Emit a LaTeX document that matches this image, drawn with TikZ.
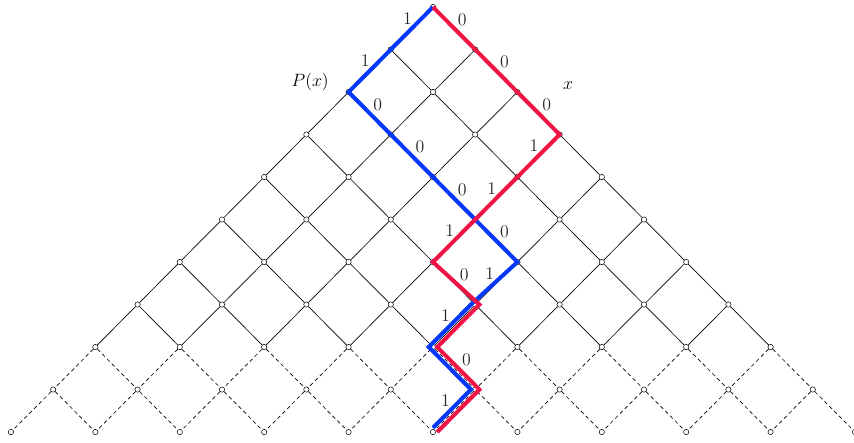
\documentclass[tikz,border=0pt]{standalone}
\usepackage{amsmath}
\usepackage{amssymb}
\usepackage{tikz}

\definecolor{pathred}{RGB}{240,20,70}
\definecolor{pathblue}{RGB}{5,55,250}

\begin{document}
\begin{tikzpicture}[x=1cm, y=1.007cm,
    vtx/.style={circle, draw, fill=white, inner sep=0pt, minimum size=3.6pt, line width=0.35pt},
    edge/.style={line width=0.45pt},
    dashedge/.style={line width=0.45pt, dash pattern=on 2.6pt off 2pt},
    bit/.style={font=\large, text=black!85, inner sep=0pt},
    bitR/.style={bit, xshift=5.5pt, yshift=6pt},
    bitL/.style={bit, xshift=-3pt, yshift=6.8pt},
    redpath/.style={pathred, line width=2.7pt},
    bluepath/.style={pathblue, line width=2.7pt}]
    \useasboundingbox (-10.26,-10.237) rectangle (9.976,0.166);
    % Nodes
    \foreach \k in {0,...,10} {
        \foreach \j in {0,...,\k} {
            \node[vtx] (v-\k-\j) at ({2*\j-\k},-\k) {};
        }
    }
    % Edges
    \foreach \k in {0,...,7} {
        \pgfmathtruncatemacro{\n}{\k+1}
        \foreach \j in {0,...,\k} {
            \pgfmathtruncatemacro{\m}{\j+1}
            \draw[edge] (v-\k-\j) -- (v-\n-\j);
            \draw[edge] (v-\k-\j) -- (v-\n-\m);
        }
    }
    \foreach \k in {8,9} {
        \pgfmathtruncatemacro{\n}{\k+1}
        \foreach \j in {0,...,\k} {
            \pgfmathtruncatemacro{\m}{\j+1}
            \draw[dashedge] (v-\k-\j) -- (v-\n-\j);
            \draw[dashedge] (v-\k-\j) -- (v-\n-\m);
        }
    }
    % Paths
    \draw[bluepath, shorten >=4pt] (v-0-0.center) -- node[bitL] {1} (v-1-0.center) -- node[bitL] {1} (v-2-0.center)
        -- node[bitR] {0} (v-3-1.center) -- node[bitR] {0} (v-4-2.center) -- node[bitR] {0} (v-5-3.center)
        -- node[bitR] {0} (v-6-4.center) -- node[bitL] {1} ([xshift=-0.1cm]v-7-4.center)
        -- node[bitL] {1} ([xshift=-0.1cm]v-8-4.center) -- ([xshift=-0.1cm]v-9-5.center)
        -- node[bitL] {1} ([xshift=-0.1cm]v-10-5.center);
    \draw[redpath] (v-0-0.center) -- node[bitR] {0} (v-1-1.center) -- node[bitR] {0} (v-2-2.center)
        -- node[bitR] {0} (v-3-3.center) -- node[bitL] {1} (v-4-3.center) -- node[bitL] {1} (v-5-3.center)
        -- node[bitL] {1} (v-6-3.center) -- node[bitR] {0} ([xshift=0.1cm]v-7-4.center)
        -- ([xshift=0.1cm]v-8-4.center) -- node[bitR] {0} ([xshift=0.1cm]v-9-5.center)
        -- ([xshift=0.1cm]v-10-5.center);
    % Labels
    \node (px) at (-2.91,-1.76) {\large $P(x)$};
    \node (xl) at (3.2,-1.86) {\large $x$};
\end{tikzpicture}
\end{document}
